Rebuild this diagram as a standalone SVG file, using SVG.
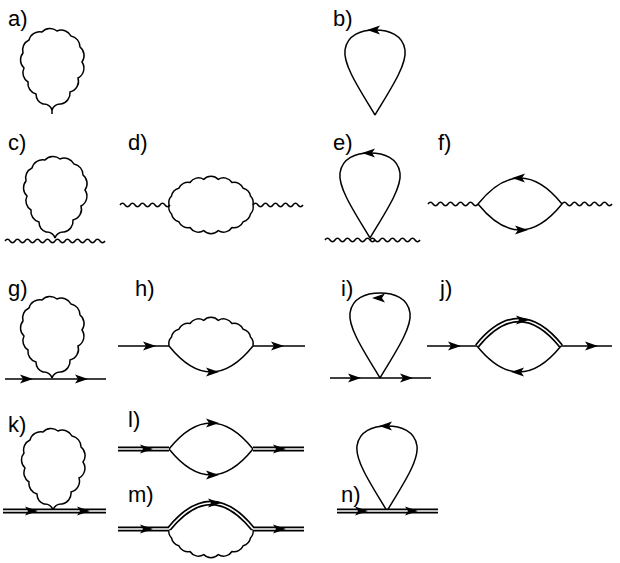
<svg xmlns="http://www.w3.org/2000/svg" xmlns:xlink="http://www.w3.org/1999/xlink" width="620" height="563" viewBox="0 0 620 563">
<style>
.l{fill:none;stroke:#000;stroke-width:1.5}
.w{fill:none;stroke:#000;stroke-width:1.5}
.d1{fill:none;stroke:#000;stroke-width:5}
.d2{fill:none;stroke:#fff;stroke-width:1.6}
.a{fill:#000}
text{font-family:"Liberation Sans",Arial,sans-serif;font-size:22px;fill:#000}
</style>
<defs>
<path id="ar" class="a" d="M-7,-4.5 L6,0 L-7,4.5 L-4,0 Z"/>
<path id="wl" class="w" d="M0,0 A9,9 0 0 0 -9,-6 A11,11 0 0 1 -16,-16 A11,11 0 0 1 -24,-28 A11,11 0 0 1 -28,-42 A11,11 0 0 1 -29,-57 A11,11 0 0 1 -23,-70 A11,11 0 0 1 -10,-78 A11,11 0 0 1 5,-79 A11,11 0 0 1 19,-74 A11,11 0 0 1 28,-63 A11,11 0 0 1 30,-48 A11,11 0 0 1 26,-32 A11,11 0 0 1 18,-18 A11,11 0 0 1 9,-6 A9,9 0 0 0 0,0"/>
<path id="fl" class="l" d="M0,0 C-15,-25 -32,-50 -30,-65 C-28,-80 -14,-85 0,-85 C14,-85 28,-80 30,-65 C32,-50 15,-25 0,0"/>
<path id="wt" class="w" d="M-42,0 A10,10 0 0 1 -39.5,-8.9 A10,10 0 0 1 -32.2,-16.7 A10,10 0 0 1 -21,-22.5 A10,10 0 0 1 -7.3,-25.6 A10,10 0 0 1 7.3,-25.6 A10,10 0 0 1 21,-22.5 A10,10 0 0 1 32.2,-16.7 A10,10 0 0 1 39.5,-8.9 A10,10 0 0 1 42,0"/>
<path id="wb" class="w" d="M42,0 A10,10 0 0 1 39.5,8.9 A10,10 0 0 1 32.2,16.7 A10,10 0 0 1 21,22.5 A10,10 0 0 1 7.3,25.6 A10,10 0 0 1 -7.3,25.6 A10,10 0 0 1 -21,22.5 A10,10 0 0 1 -32.2,16.7 A10,10 0 0 1 -39.5,8.9 A10,10 0 0 1 -42,0"/>
<path id="ft" d="M-42,0 Q0,-52 42,0"/>
<path id="fb" d="M-42,0 Q0,52 42,0"/>
<path id="wh" class="w" d="M0,0 q2.5,-3.5 5,0 t5,0 t5,0 t5,0 t5,0 t5,0 t5,0 t5,0 t5,0 t5,0"/>
</defs>

<g id="a"><text x="8" y="26">a)</text><use href="#wl" transform="translate(52,110)"/><line class="l" x1="52" y1="110" x2="52" y2="114"/></g>

<g id="b"><text x="333" y="26">b)</text><use href="#fl" transform="translate(375,115)"/><use href="#ar" transform="translate(373,30) rotate(180)"/></g>

<g id="c"><text x="8" y="150">c)</text><use href="#wl" transform="translate(55,238)"/>
<use href="#wh" transform="translate(5,241)"/><use href="#wh" transform="translate(55,241)"/></g>

<g id="d"><text x="128" y="150">d)</text><use href="#wt" transform="translate(211,205)"/><use href="#wb" transform="translate(211,205)"/>
<use href="#wh" transform="translate(120,205)"/><use href="#wh" transform="translate(253,205)"/></g>

<g id="e"><text x="333" y="150">e)</text><use href="#fl" transform="translate(370,238)"/><use href="#ar" transform="translate(368,153) rotate(180)"/>
<use href="#wh" transform="translate(325,240)"/><use href="#wh" transform="translate(370,240)"/></g>

<g id="f"><text x="438" y="150">f)</text>
<use href="#ft" class="l" transform="translate(520,204)"/><use href="#fb" class="l" transform="translate(520,204)"/>
<use href="#ar" transform="translate(518,178) rotate(180)"/><use href="#ar" transform="translate(522,230)"/>
<use href="#wh" transform="translate(428,204)"/><use href="#wh" transform="translate(562,204)"/></g>

<g id="g"><text x="8" y="296">g)</text><use href="#wl" transform="translate(52,378)"/>
<line class="l" x1="5" y1="379" x2="106" y2="379"/><use href="#ar" transform="translate(27,379)"/><use href="#ar" transform="translate(82,379)"/></g>

<g id="h"><text x="135" y="296">h)</text><use href="#wt" transform="translate(211,346)"/>
<use href="#fb" class="l" transform="translate(211,346)"/><use href="#ar" transform="translate(213,372)"/>
<line class="l" x1="118" y1="346" x2="169" y2="346"/><line class="l" x1="253" y1="346" x2="305" y2="346"/>
<use href="#ar" transform="translate(150,346)"/><use href="#ar" transform="translate(278,346)"/></g>

<g id="i"><text x="341" y="296">i)</text><use href="#fl" transform="translate(380,378)"/><use href="#ar" transform="translate(378,298) rotate(180)"/>
<line class="l" x1="330" y1="378" x2="431" y2="378"/><use href="#ar" transform="translate(355,378)"/><use href="#ar" transform="translate(407,378)"/></g>

<g id="j"><text x="440" y="296">j)</text>
<use href="#ft" class="d1" transform="translate(519,346)"/><use href="#ft" class="d2" transform="translate(519,346)"/>
<use href="#fb" class="l" transform="translate(519,346)"/>
<use href="#ar" transform="translate(523,320)"/><use href="#ar" transform="translate(517,372) rotate(180)"/>
<line class="l" x1="427" y1="346" x2="477" y2="346"/><line class="l" x1="561" y1="346" x2="612" y2="346"/>
<use href="#ar" transform="translate(455,346)"/><use href="#ar" transform="translate(592,346)"/></g>

<g id="k"><text x="8" y="432">k)</text><use href="#wl" transform="translate(53,510)"/>
<line class="d1" x1="3" y1="511" x2="106" y2="511"/><line class="d2" x1="3" y1="511" x2="106" y2="511"/>
<use href="#ar" transform="translate(32,511)"/><use href="#ar" transform="translate(84,511)"/></g>

<g id="l"><text x="128" y="427">l)</text>
<use href="#ft" class="l" transform="translate(211,449)"/><use href="#fb" class="l" transform="translate(211,449)"/>
<use href="#ar" transform="translate(213,423)"/><use href="#ar" transform="translate(213,475)"/>
<line class="d1" x1="118" y1="449" x2="169" y2="449"/><line class="d2" x1="118" y1="449" x2="169" y2="449"/>
<line class="d1" x1="253" y1="449" x2="304" y2="449"/><line class="d2" x1="253" y1="449" x2="304" y2="449"/>
<use href="#ar" transform="translate(147,449)"/><use href="#ar" transform="translate(280,449)"/></g>

<g id="m"><text x="128" y="502">m)</text>
<use href="#ft" class="d1" transform="translate(211,529)"/><use href="#ft" class="d2" transform="translate(211,529)"/>
<use href="#wb" transform="translate(211,529)"/><use href="#ar" transform="translate(215,503)"/>
<line class="d1" x1="118" y1="529" x2="169" y2="529"/><line class="d2" x1="118" y1="529" x2="169" y2="529"/>
<line class="d1" x1="253" y1="529" x2="304" y2="529"/><line class="d2" x1="253" y1="529" x2="304" y2="529"/>
<use href="#ar" transform="translate(147,529)"/><use href="#ar" transform="translate(280,529)"/></g>

<g id="n"><text x="341" y="502">n)</text><use href="#fl" transform="translate(387,511)"/><use href="#ar" transform="translate(385,426) rotate(180)"/>
<line class="d1" x1="337" y1="511" x2="438" y2="511"/><line class="d2" x1="337" y1="511" x2="438" y2="511"/>
<use href="#ar" transform="translate(362,511)"/><use href="#ar" transform="translate(412,511)"/></g>
</svg>
